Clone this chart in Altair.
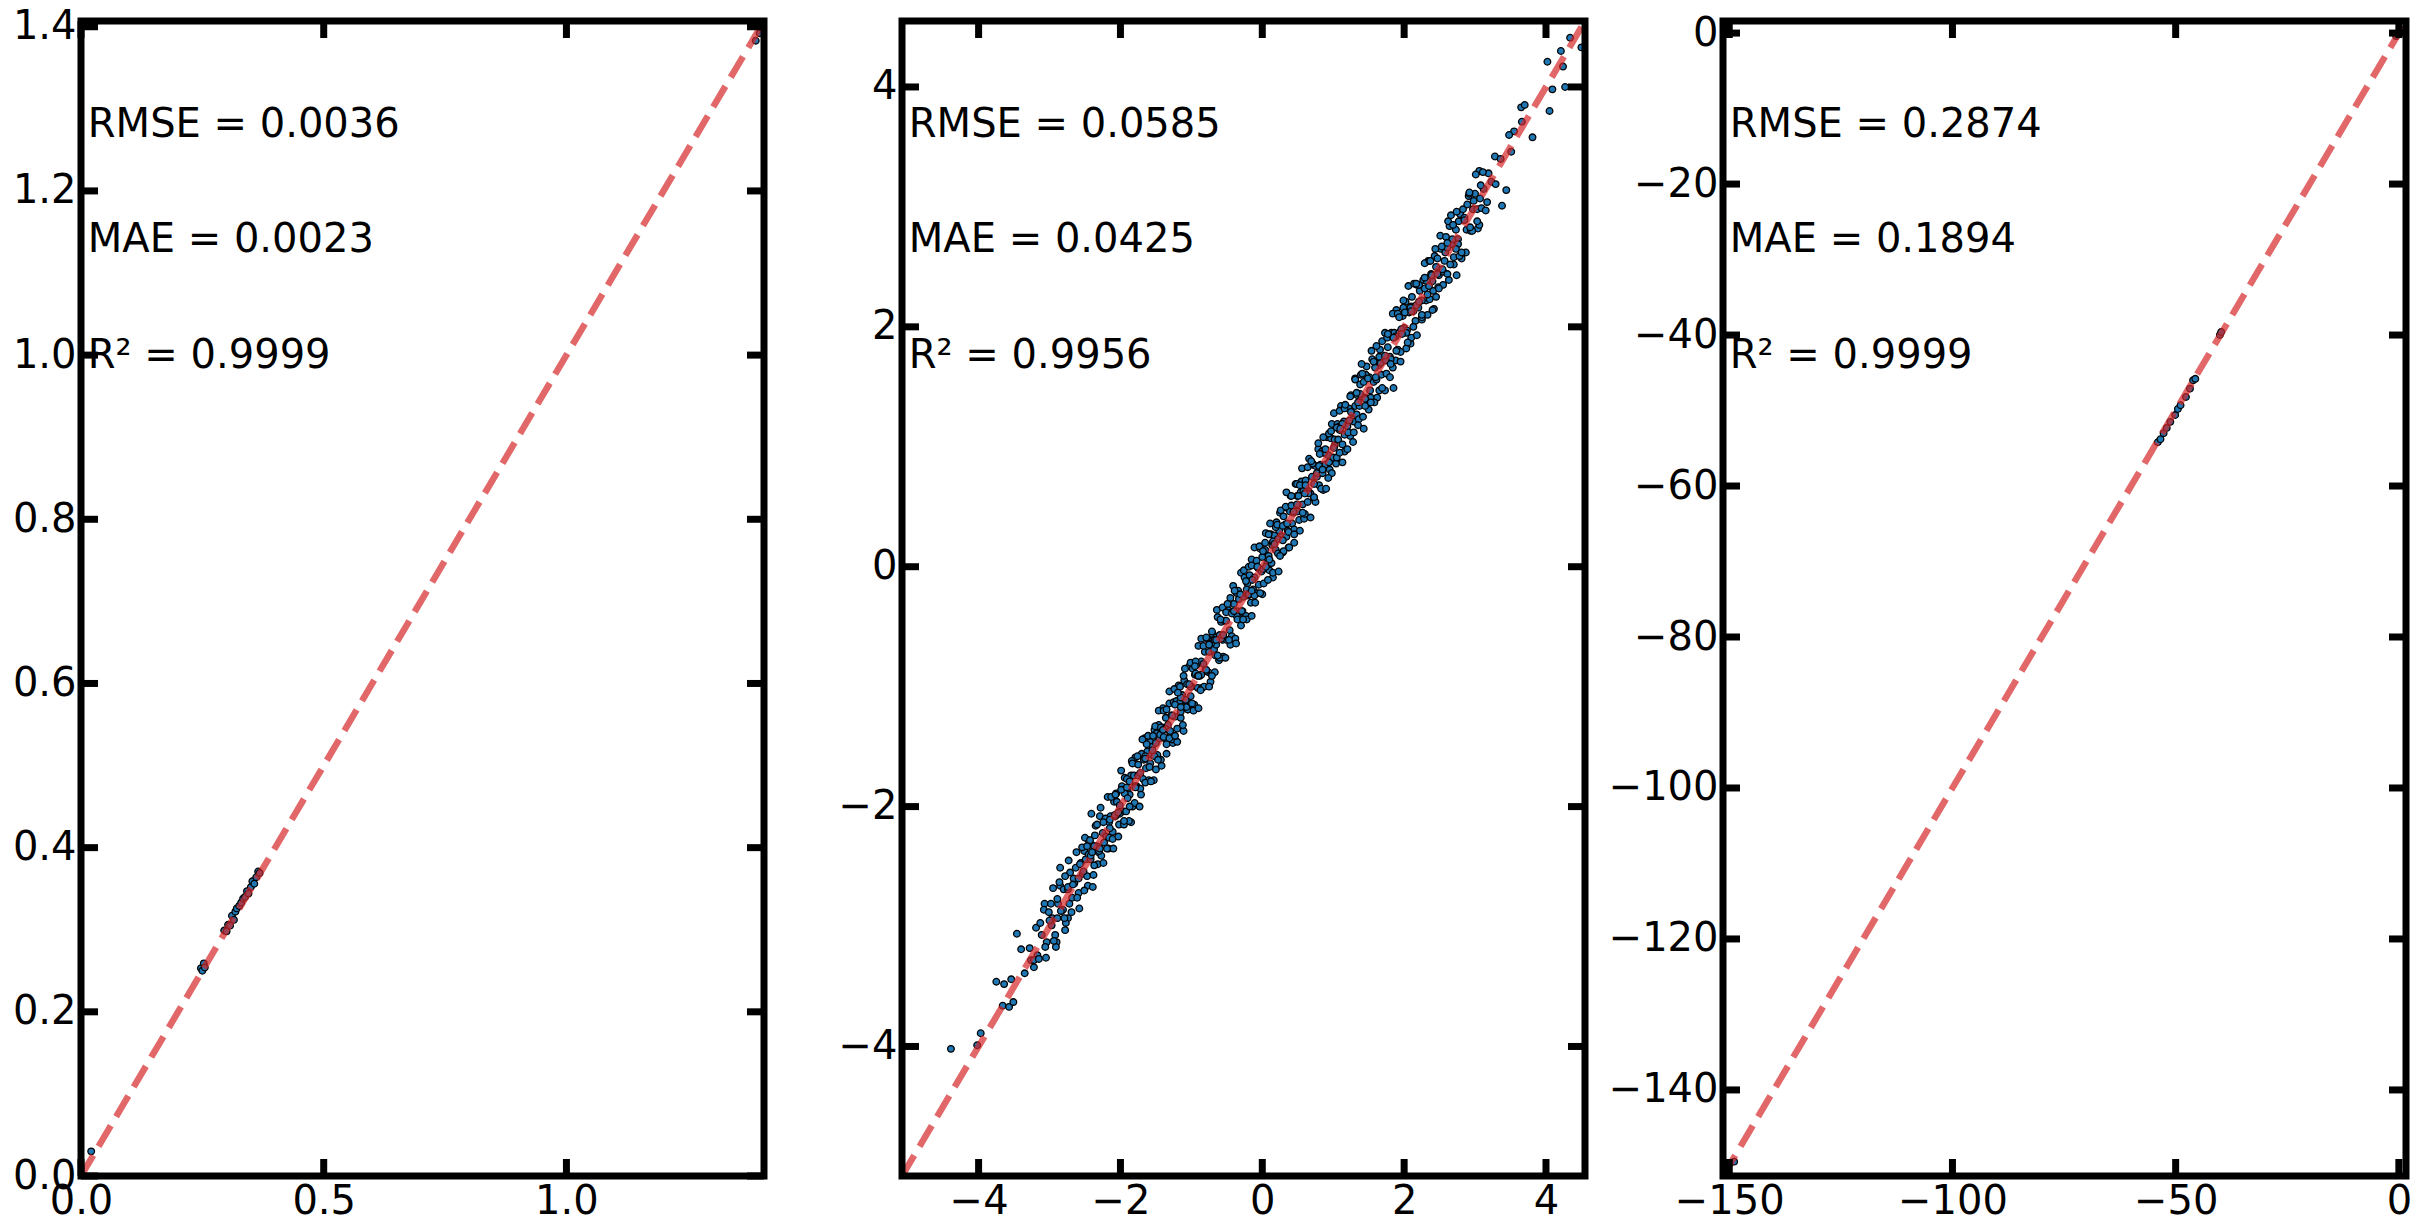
import altair as alt
import pandas as pd

# ---------------- panel 1 ----------------
p1_true = [0.021, 0.247, 0.250, 0.253, 0.255, 0.295, 0.300, 0.303, 0.307, 0.311,
           0.315, 0.318, 0.321, 0.326, 0.330, 0.334, 0.338, 0.342, 0.345, 0.350,
           0.353, 0.357, 0.361, 0.365, 0.368, 1.390, 1.398]
p1_pred = [0.030, 0.253, 0.250, 0.259, 0.254, 0.299, 0.298, 0.306, 0.305, 0.317,
           0.312, 0.322, 0.326, 0.329, 0.333, 0.338, 0.340, 0.347, 0.344, 0.352,
           0.359, 0.356, 0.364, 0.371, 0.369, 1.383, 1.392]
p1_domain = [0.0, 1.407]
p1_xticks = [0.0, 0.5, 1.0]
p1_yticks = [0.0, 0.2, 0.4, 0.6, 0.8, 1.0, 1.2, 1.4]
p1_stats = ["RMSE = 0.0036", "MAE = 0.0023", "R\u00b2 = 0.9999"]

# ---------------- panel 2 ----------------
p2_true = [
    # low tail
    -4.39, -3.97, -4.02, -3.75, -3.64, -3.54, -3.66, -3.57, -3.51, -3.46,
    -3.35, -3.40, -3.22, -3.26, -3.17, -3.07, -2.85, -2.74, -2.90, -2.78,
    -2.41, -1.85,
    # body
    -3.28, -3.22, -3.19, -3.15, -3.11, -3.08, -3.04, -3.01, -2.97, -2.95,
    -2.92, -2.88, -2.85, -2.83, -2.80, -2.77, -2.74, -2.71, -2.68, -2.65,
    -2.62, -2.59, -2.56, -2.53, -2.51,
    -2.49, -2.47, -2.45, -2.42, -2.40, -2.38, -2.36, -2.33, -2.31, -2.29,
    -2.27, -2.25, -2.22, -2.20, -2.18, -2.16, -2.14, -2.11, -2.09, -2.07,
    -2.05, -2.03, -2.01, -1.98, -1.96, -1.94, -1.92, -1.90, -1.87, -1.85,
    -1.83, -1.81, -1.79, -1.77, -1.75, -1.72, -1.70, -1.68, -1.66, -1.64,
    -1.62, -1.60, -1.58, -1.56, -1.55, -1.53, -1.52, -1.51, -1.50, -1.49,
    -1.48, -1.46, -1.45, -1.43, -1.41, -1.40, -1.38, -1.36, -1.35, -1.33,
    -1.31, -1.30, -1.28, -1.26, -1.25, -1.23, -1.21, -1.20, -1.18, -1.16,
    -1.15, -1.13, -1.11, -1.10, -1.08, -1.06, -1.05, -1.03, -1.01, -1.00,
    -0.98, -0.96, -0.95, -0.93, -0.91, -0.90, -0.88, -0.86, -0.85, -0.83,
    -0.81, -0.80, -0.78, -0.76, -0.75, -0.73, -0.71, -0.70, -0.68, -0.66,
    -0.65, -0.63, -0.61, -0.60, -0.58, -0.56, -0.55, -0.53, -0.51, -0.50,
    -0.48, -0.46, -0.45, -0.43, -0.41, -0.40, -0.38, -0.36, -0.35, -0.33,
    -0.31, -0.30, -0.28, -0.26, -0.25, -0.23, -0.21, -0.20, -0.18, -0.16,
    -0.15, -0.13, -0.11, -0.10, -0.08, -0.06, -0.05, -0.03, -0.01, 0.00,
    0.02, 0.04, 0.05, 0.07, 0.09, 0.10, 0.12, 0.14, 0.15, 0.17,
    0.19, 0.20, 0.22, 0.24, 0.25, 0.27, 0.29, 0.30, 0.32, 0.34,
    0.35, 0.37, 0.39, 0.40, 0.42, 0.44, 0.45, 0.47, 0.49, 0.50,
    0.52, 0.54, 0.55, 0.57, 0.59, 0.61, 0.62, 0.64, 0.66, 0.68,
    0.70, 0.71, 0.73, 0.75, 0.77, 0.79, 0.80, 0.82, 0.84, 0.86,
    0.88, 0.89, 0.91, 0.93, 0.95, 0.97, 0.98, 1.00, 1.02, 1.04,
    1.06, 1.07, 1.09, 1.11, 1.13, 1.15, 1.16, 1.18, 1.20, 1.22,
    1.24, 1.25, 1.27, 1.29, 1.31, 1.33, 1.34, 1.36, 1.38, 1.40,
    1.42, 1.43, 1.45, 1.47, 1.49,
    1.51, 1.53, 1.55, 1.57, 1.60, 1.62, 1.64, 1.66, 1.68, 1.71,
    1.73, 1.75, 1.77, 1.80, 1.82, 1.84, 1.86, 1.89, 1.91, 1.93,
    1.95, 1.98, 2.00, 2.02, 2.04, 2.07, 2.09, 2.11, 2.13, 2.16,
    2.18, 2.20, 2.22, 2.25, 2.27, 2.29, 2.31, 2.34, 2.36, 2.38,
    2.40, 2.43, 2.45, 2.47, 2.49,
    2.52, 2.55, 2.58, 2.61, 2.64, 2.67, 2.70, 2.73, 2.76, 2.79,
    2.82, 2.85, 2.88, 2.91, 2.94, 2.97, 3.00, 3.03, 3.06, 3.09,
    3.12, 3.15, 3.19, 3.23, 3.28,
    # high tail
    4.34, 4.02, 4.21, 4.24, 4.27, 4.09, 4.05, 3.65, 3.70, 3.81,
    3.55, 3.48, 3.66, 3.51, 3.36, 3.44, 3.38, 3.29, 2.92, 3.07,
    2.62, 3.04, 2.81, 2.74, 2.42, 1.99, 1.85, 1.40, 4.50,
]
p2_pred = [
    # low tail
    -4.02, -3.89, -3.99, -3.46, -3.48, -3.44, -3.66, -3.67, -3.63, -3.06,
    -3.39, -3.19, -3.34, -3.28, -3.24, -2.81, -2.51, -2.93, -3.13, -3.03,
    -2.06, -2.13,
    # body
    -3.18, -3.28, -3.01, -3.27, -3.07, -2.86, -3.13, -2.88, -2.99, -2.68,
    -3.07, -2.81, -2.66, -2.87, -2.69, -2.97, -2.69, -2.55, -2.76, -2.64,
    -2.38, -2.72, -2.47, -2.56, -2.37,
    -2.44, -2.58, -2.28, -2.44, -2.32, -2.57, -2.24, -2.33, -2.38, -2.08,
    -2.41, -2.22, -2.12, -2.25, -1.92, -2.26, -2.08, -2.27, -1.96, -2.08,
    -1.96, -2.25, -1.99, -1.83, -2.04, -1.76, -2.04, -1.86, -1.90, -1.74,
    -2.00, -1.74, -1.59, -1.83, -1.74, -1.85, -1.56, -1.77, -1.43, -1.68,
    -1.54, -1.78, -1.46, -1.57, -1.50, -1.78, -1.36, -1.58, -1.47, -1.39,
    -1.57, -1.32, -1.43, -1.61, -1.34, -1.18, -1.43, -1.26, -1.48, -1.32,
    -1.14, -1.38, -1.24, -1.47, -1.13, -1.25, -1.12, -1.35, -0.99, -1.13,
    -1.26, -1.07, -1.37, -0.95, -1.12, -0.98, -1.19, -0.83, -1.08, -1.00,
    -0.85, -1.15, -0.90, -0.82, -1.01, -0.66, -0.91, -0.79, -1.01, -0.81,
    -0.71, -0.86, -0.60, -0.88, -0.71, -0.96, -0.62, -0.56, -0.69, -0.74,
    -0.59, -0.42, -0.78, -0.57, -0.46, -0.61, -0.75, -0.45, -0.35, -0.61,
    -0.36, -0.53, -0.26, -0.58, -0.38, -0.31, -0.60, -0.22, -0.37, -0.27,
    -0.43, -0.05, -0.37, -0.25, -0.09, -0.41, -0.14, -0.24, -0.07, -0.30,
    0.06, -0.19, -0.09, -0.30, 0.05, -0.01, -0.15, 0.15, -0.04, 0.08,
    -0.14, 0.14, 0.28, -0.01, 0.09, -0.03, 0.27, 0.18, -0.09, 0.26,
    0.14, 0.37, 0.11, 0.30, 0.45, 0.25, 0.12, 0.42, 0.35, 0.25,
    0.49, 0.16, 0.46, 0.59, 0.36, 0.45, 0.31, 0.69, 0.59, 0.46,
    0.39, 0.62, 0.71, 0.52, 0.40, 0.72, 0.64, 0.54, 0.90, 0.61,
    0.75, 0.85, 0.57, 0.84, 0.75, 0.98, 0.68, 0.85, 0.96, 0.64,
    0.95, 0.85, 1.08, 0.93, 0.81, 1.07, 1.19, 0.91, 1.06, 0.86,
    1.19, 1.06, 1.17, 1.34, 1.02, 1.21, 0.96, 1.33, 1.17, 1.32,
    1.09, 1.43, 1.28, 1.21, 1.57, 1.27, 1.43, 1.23, 1.52, 1.42,
    1.25, 1.54, 1.41, 1.67, 1.39,
    1.58, 1.41, 1.73, 1.54, 1.70, 1.41, 1.68, 1.81, 1.60, 1.72,
    1.95, 1.61, 1.83, 1.75, 1.95, 1.66, 1.95, 2.14, 1.81, 1.95,
    1.79, 2.09, 1.99, 2.21, 1.97, 2.12, 1.86, 2.25, 2.13, 2.05,
    2.35, 2.16, 2.30, 2.06, 2.39, 2.32, 2.22, 2.55, 2.23, 2.44,
    2.38, 2.59, 2.25, 2.57, 2.43,
    2.65, 2.46, 2.62, 2.44, 2.84, 2.69, 2.58, 2.81, 2.73, 2.94,
    2.61, 2.91, 2.81, 3.09, 2.80, 2.98, 3.11, 2.98, 3.30, 2.99,
    3.15, 2.97, 3.28, 3.21, 3.42,
    # high tail
    4.41, 4.21, 4.30, 4.17, 4.00, 3.98, 3.80, 3.83, 3.85, 3.58,
    3.63, 3.60, 3.71, 3.46, 3.40, 3.14, 3.01, 3.19, 3.11, 3.07,
    2.88, 2.82, 2.57, 2.43, 2.15, 2.22, 1.49, 1.69, 4.33,
]
# further samples: the outer edge of the band and its dense core
p2_true_more = [
    -3.05, -2.98, -2.91, -2.86, -2.79, -2.73, -2.69, -2.63, -2.58, -2.54,
    -2.50, -2.46, -2.43, -2.39, -2.35, -2.32, -2.28, -2.24, -2.21, -2.17,
    -2.13, -2.10, -2.06, -2.02, -1.99, -1.95, -1.91, -1.88, -1.84, -1.80,
    -1.76, -1.73, -1.69, -1.65, -1.61, -1.57, -1.54, -1.50, -1.46, -1.42,
    -1.39, -1.35, -1.31, -1.27, -1.24, -1.20, -1.16, -1.12, -1.09, -1.05,
    -1.01, -0.97, -0.94, -0.90, -0.86, -0.82, -0.79, -0.75, -0.71, -0.67,
    -0.64, -0.60, -0.56, -0.52, -0.49, -0.45, -0.41, -0.37, -0.34, -0.30,
    -0.26, -0.22, -0.19, -0.15, -0.11, -0.07, -0.04, 0.00, 0.04, 0.08,
    0.11, 0.15, 0.19, 0.23, 0.26, 0.30, 0.34, 0.38, 0.41, 0.45,
    0.49, 0.53, 0.56, 0.60, 0.64, 0.68, 0.71, 0.75, 0.79, 0.83,
    0.86, 0.90, 0.94, 0.98, 1.01, 1.05, 1.09, 1.13, 1.16, 1.20,
    1.24, 1.28, 1.31, 1.35, 1.39, 1.43, 1.46, 1.50, 1.54, 1.58,
    1.61, 1.65, 1.69, 1.73, 1.76, 1.80, 1.84, 1.88, 1.91, 1.95,
    1.99, 2.03, 2.06, 2.10, 2.14, 2.18, 2.21, 2.25, 2.29, 2.33,
    2.36, 2.40, 2.44, 2.48, 2.51, 2.55, 2.59, 2.63, 2.66, 2.70,
    2.74, 2.78, 2.83, 2.87, 2.92, 2.96, 3.01, 3.06, 3.11, 3.17,
    -2.96, -2.81, -2.66, -2.52, -2.37, -2.23, -2.08, -1.94, -1.79, -1.65,
    -1.52, -1.37, -1.23, -1.08, -0.94, -0.79, -0.65, -0.51, -0.36, -0.22,
    -0.07, 0.07, 0.22, 0.36, 0.51, 0.65, 0.80, 0.94, 1.09, 1.23,
    1.38, 1.52, 1.67, 1.81, 1.96, 2.10, 2.25, 2.39, 2.54, 2.68,
    -2.89, -2.74, -2.59, -2.45, -2.30, -2.16, -2.01, -1.87, -1.72, -1.58,
    -1.44, -1.30, -1.15, -1.01, -0.86, -0.72, -0.58, -0.43, -0.29, -0.14,
    0.01, 0.15, 0.29, 0.44, 0.58, 0.73, 0.87, 1.02, 1.16, 1.31,
    1.45, 1.59, 1.74, 1.88, 2.03, 2.17, 2.32, 2.47, 2.61, 2.76,
    -3.13, -3.06, -3.00, -2.94, -2.89, -2.84, -2.78, -2.72, -2.67, -2.61,
    -2.57, -2.51, -2.47, -2.42, -2.37, -2.33, -2.29, -2.24, -2.19, -2.15,
    -2.11, -2.07, -2.03, -1.99, -1.95, -1.91, -1.87, -1.83, -1.79, -1.75,
    -1.71, -1.67, -1.63, -1.59, -1.55, -1.51, -1.47, -1.43, -1.39, -1.35,
    -1.31, -1.27, -1.23, -1.19, -1.15, -1.11, -1.07, -1.03, -0.99, -0.95,
    -0.91, -0.87, -0.83, -0.79, -0.75, -0.71, -0.67, -0.63, -0.59, -0.55,
    -0.51, -0.47, -0.43, -0.39, -0.35, -0.31, -0.27, -0.23, -0.19, -0.15,
    -0.11, -0.07, -0.03, 0.01, 0.05, 0.09, 0.13, 0.17, 0.21, 0.25,
    0.29, 0.33, 0.37, 0.41, 0.45, 0.49, 0.53, 0.57, 0.61, 0.65,
    0.69, 0.73, 0.77, 0.81, 0.85, 0.89, 0.93, 0.97, 1.01, 1.05,
    1.09, 1.13, 1.17, 1.21, 1.25, 1.29, 1.33, 1.37, 1.41, 1.45,
    1.49, 1.53, 1.57, 1.61, 1.65, 1.69, 1.73, 1.77, 1.81, 1.85,
    1.89, 1.93, 1.97, 2.01, 2.05, 2.09, 2.13, 2.17, 2.21, 2.25,
    2.29, 2.33, 2.37, 2.41, 2.45, 2.49, 2.53, 2.57, 2.61, 2.65,
    2.69, 2.73, 2.77, 2.81, 2.85, 2.89, 2.93, 2.98, 3.03, 3.08,
    -2.40, -1.90, -1.40, -0.90, -0.40, 0.10, 0.60, 1.10, 1.60, 2.10,
    -2.15, -1.65, -1.15, -0.65, -0.15, 0.35, 0.85, 1.35, 1.85, 2.35,
]
p2_pred_more = [
    -3.26, -2.81, -3.17, -2.63, -2.93, -2.45, -2.88, -2.51, -2.85, -2.34,
    -2.26, -2.66, -2.28, -2.67, -2.16, -2.48, -2.01, -2.47, -2.10, -2.35,
    -1.92, -2.35, -1.89, -2.15, -1.70, -2.15, -1.77, -2.12, -1.62, -1.97,
    -1.58, -2.00, -1.44, -1.80, -1.41, -1.79, -1.41, -1.69, -1.20, -1.66,
    -1.20, -1.56, -1.04, -1.44, -1.02, -1.46, -1.00, -1.32, -0.85, -1.19,
    -0.80, -1.20, -0.79, -1.18, -0.60, -1.00, -0.59, -1.00, -0.54, -0.88,
    -0.36, -0.76, -0.34, -0.76, -0.31, -0.65, -0.16, -0.64, -0.20, -0.49,
    -0.03, -0.44, 0.00, -0.41, 0.16, -0.22, 0.17, -0.23, 0.20, -0.11,
    0.36, -0.05, 0.33, -0.04, 0.47, 0.13, 0.62, 0.16, 0.59, 0.20,
    0.69, 0.30, 0.82, 0.44, 0.83, 0.41, 0.86, 0.54, 1.03, 0.65,
    1.08, 0.65, 1.11, 0.78, 1.28, 0.91, 1.30, 0.87, 1.32, 0.98,
    1.42, 1.04, 1.56, 1.18, 1.60, 1.15, 1.60, 1.31, 1.80, 1.37,
    1.84, 1.47, 1.88, 1.47, 1.91, 1.58, 2.11, 1.72, 2.11, 1.71,
    2.16, 1.82, 2.34, 1.91, 2.36, 1.93, 2.35, 2.08, 2.53, 2.10,
    2.55, 2.14, 2.65, 2.33, 2.76, 2.35, 2.75, 2.39, 2.93, 2.52,
    2.96, 2.59, 2.98, 2.62, 3.12, 2.80, 3.27, 2.85, 3.29, 3.04,
    -2.93, -2.86, -2.60, -2.54, -2.33, -2.30, -2.07, -1.89, -1.83, -1.58,
    -1.58, -1.35, -1.15, -1.11, -0.89, -0.87, -0.65, -0.45, -0.41, -0.19,
    0.00, 0.03, 0.23, 0.30, 0.59, 0.63, 0.84, 0.87, 1.14, 1.22,
    1.44, 1.47, 1.70, 1.73, 1.98, 2.17, 2.22, 2.43, 2.48, 2.73,
    -2.93, -2.67, -2.60, -2.40, -2.37, -2.13, -2.06, -1.79, -1.72, -1.64,
    -1.40, -1.37, -1.09, -1.00, -0.90, -0.64, -0.60, -0.38, -0.37, -0.11,
    -0.02, 0.21, 0.22, 0.46, 0.63, 0.69, 0.95, 1.01, 1.10, 1.34,
    1.40, 1.66, 1.72, 1.92, 1.95, 2.18, 2.38, 2.44, 2.66, 2.69,
    -2.97, -3.17, -2.95, -3.12, -2.77, -2.87, -2.58, -2.81, -2.65, -2.76,
    -2.48, -2.70, -2.33, -2.41, -2.49, -2.15, -2.35, -2.13, -2.35, -2.11,
    -2.21, -1.90, -2.05, -1.86, -2.12, -1.84, -2.00, -1.64, -1.84, -1.65,
    -1.90, -1.61, -1.48, -1.67, -1.53, -1.33, -1.61, -1.34, -1.42, -1.19,
    -1.43, -1.24, -1.41, -1.05, -1.21, -0.91, -1.17, -0.98, -1.14, -0.83,
    -0.91, -1.03, -0.66, -0.86, -0.65, -0.91, -0.61, -0.74, -0.44, -0.57,
    -0.38, -0.61, -0.39, -0.20, -0.44, -0.23, -0.44, -0.12, -0.23, 0.01,
    -0.24, 0.00, -0.22, 0.13, 0.00, 0.27, 0.03, 0.19, 0.35, 0.09,
    0.34, 0.50, 0.29, 0.51, 0.27, 0.52, 0.68, 0.45, 0.68, 0.61,
    0.88, 0.58, 0.78, 0.94, 0.78, 0.98, 0.74, 1.13, 0.99, 1.16,
    0.95, 1.19, 1.35, 1.12, 1.29, 1.12, 1.45, 1.34, 1.61, 1.34,
    1.57, 1.37, 1.71, 1.56, 1.75, 1.49, 1.76, 1.94, 1.69, 1.91,
    1.80, 2.08, 1.94, 2.12, 1.87, 2.16, 2.00, 2.36, 2.21, 2.10,
    2.41, 2.27, 2.55, 2.30, 2.50, 2.32, 2.67, 2.55, 2.70, 2.52,
    2.85, 2.65, 2.88, 2.62, 2.89, 3.02, 2.83, 3.05, 2.88, 3.18,
    -2.38, -1.93, -1.36, -0.91, -0.37, 0.06, 0.61, 1.15, 1.58, 2.13,
    -2.18, -1.60, -1.17, -0.61, -0.20, 0.36, 0.81, 1.37, 1.91, 2.34,
]
p2_domain = [-5.08, 4.55]
p2_xticks = [-4, -2, 0, 2, 4]
p2_yticks = [-4, -2, 0, 2, 4]
p2_stats = ["RMSE = 0.0585", "MAE = 0.0425", "R\u00b2 = 0.9956"]

# ---------------- panel 3 ----------------
p3_true = [-150.4, -149.8, -148.9, -54.0, -53.4, -52.7, -52.0, -51.2, -50.1, -49.5,
           -48.9, -47.7, -46.8, -46.1, -45.6, -40.1, -39.8, -0.6, -0.2, 0.3]
p3_pred = [-150.4, -149.7, -149.5, -54.2, -53.8, -53.0, -52.3, -51.5, -50.6, -49.8,
           -49.3, -48.2, -47.1, -46.0, -45.8, -40.0, -39.6, -0.4, -0.1, 0.5]
p3_domain = [-151.4, 1.6]
p3_xticks = [-150, -100, -50, 0]
p3_yticks = [-140, -120, -100, -80, -60, -40, -20, 0]
p3_stats = ["RMSE = 0.2874", "MAE = 0.1894", "R\u00b2 = 0.9999"]

# ---------------- styling ----------------
W, H = 683, 1155
TICK_LEN = 17
FONT = "DejaVu Sans"
FS = 40


def make_axis(values, fmt):
    return alt.Axis(values=values, format=fmt, title=None, grid=False,
                    domain=False, ticks=False, labelFont=FONT, labelFontSize=FS,
                    labelColor="black", labelPadding=5, labelFlush=False,
                    labelOverlap=False)


def panel(true, pred, domain, xticks, yticks, fmt, stats):
    sc = alt.Scale(domain=domain, nice=False, zero=False)
    ax_x = make_axis(xticks, fmt)
    ax_y = make_axis(yticks, fmt)

    pts = pd.DataFrame({"true": true, "pred": pred})
    points = alt.Chart(pts).mark_circle(
        size=44, color="#1f77b4", opacity=1, stroke="black", strokeWidth=1.3,
        clip=True,
    ).encode(
        x=alt.X("true:Q", scale=sc, axis=ax_x),
        y=alt.Y("pred:Q", scale=sc, axis=ax_y),
    )

    # y = x reference line across the full axis range
    ideal = pd.DataFrame({"true": domain, "pred": domain})
    line = alt.Chart(ideal).mark_line(
        color="#d62728", opacity=0.7, strokeWidth=6.5, strokeDash=[24, 10.5],
        clip=True,
    ).encode(
        x=alt.X("true:Q", scale=sc, axis=ax_x),
        y=alt.Y("pred:Q", scale=sc, axis=ax_y),
    )

    texts = []
    for i, s in enumerate(stats):
        texts.append(
            alt.Chart(pd.DataFrame({"t": [s]})).mark_text(
                align="left", baseline="alphabetic", font=FONT, fontSize=FS,
                color="black",
            ).encode(text="t:N", x=alt.value(0.01 * W),
                     y=alt.value(0.1 * (i + 1) * H))
        )

    # inward-pointing ticks on all four sides
    xt = pd.DataFrame({"v": xticks})
    yt = pd.DataFrame({"v": yticks})
    tick_style = dict(color="black", strokeWidth=7)
    ticks = [
        alt.Chart(yt).mark_rule(**tick_style).encode(
            y=alt.Y("v:Q", scale=sc, axis=ax_y),
            x=alt.value(0), x2=alt.value(TICK_LEN)),
        alt.Chart(yt).mark_rule(**tick_style).encode(
            y=alt.Y("v:Q", scale=sc, axis=ax_y),
            x=alt.value(W - TICK_LEN), x2=alt.value(W)),
        alt.Chart(xt).mark_rule(**tick_style).encode(
            x=alt.X("v:Q", scale=sc, axis=ax_x),
            y=alt.value(H - TICK_LEN), y2=alt.value(H)),
        alt.Chart(xt).mark_rule(**tick_style).encode(
            x=alt.X("v:Q", scale=sc, axis=ax_x),
            y=alt.value(0), y2=alt.value(TICK_LEN)),
    ]

    frame = alt.Chart(pd.DataFrame({"t": [0]})).mark_rect(
        fillOpacity=0, stroke="black", strokeWidth=7,
    ).encode(x=alt.value(0), x2=alt.value(W), y=alt.value(0), y2=alt.value(H))

    return alt.layer(points, line, *texts, *ticks, frame).properties(
        width=W, height=H)


c1 = panel(p1_true, p1_pred, p1_domain, p1_xticks, p1_yticks, ".1f", p1_stats)
c2 = panel(p2_true + p2_true_more, p2_pred + p2_pred_more, p2_domain,
           p2_xticks, p2_yticks, "d", p2_stats)
c3 = panel(p3_true, p3_pred, p3_domain, p3_xticks, p3_yticks, "d", p3_stats)

chart = alt.hconcat(c1, c2, c3, spacing=138, bounds="flush").properties(
    padding={"left": 12, "top": 6, "right": 5, "bottom": 5},
    background="white",
).configure_view(stroke=None)

chart.save("out.html", embed_options={"renderer": "svg", "actions": False})
